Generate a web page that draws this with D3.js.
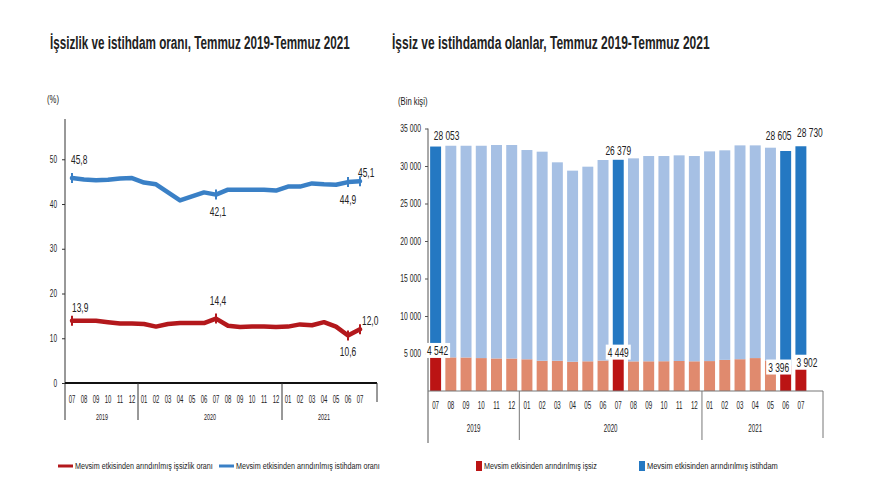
<!DOCTYPE html>
<html><head><meta charset="utf-8">
<script src="https://cdn.jsdelivr.net/npm/d3@7"></script>
<style>
html,body{margin:0;padding:0;background:#fff;}
svg text{font-family:"Liberation Sans",Arial,sans-serif;fill:#222;}
</style></head>
<body>
<svg id="c" width="880" height="495"></svg>
<script>
// ---- data ----
const months = ["07","08","09","10","11","12","01","02","03","04","05","06","07","08","09","10","11","12","01","02","03","04","05","06","07"];
const yearLabels = ["2019","2020","2021"];
const yearStart = [0,6,18];
const yearEnd = [5,17,24];
const employmentRate = [45.8,45.5,45.3,45.4,45.7,45.8,44.8,44.4,42.6,40.8,41.7,42.6,42.1,43.2,43.2,43.2,43.2,43.0,43.9,43.9,44.6,44.4,44.3,44.9,45.1];
const unemploymentRate = [13.9,13.9,13.9,13.6,13.3,13.3,13.2,12.6,13.2,13.4,13.4,13.4,14.4,12.8,12.5,12.6,12.6,12.5,12.6,13.1,12.9,13.6,12.6,10.6,12.0];
const employed = [28053,28220,28230,28310,28460,28470,27900,27880,26460,25480,25950,26740,26379,27070,27370,27360,27420,27370,27960,27940,28510,28360,28380,28605,28730];
const unemployed = [4542,4480,4470,4390,4340,4330,4230,4030,4030,3900,3960,4060,4449,3950,3960,3970,4000,3960,3990,4150,4240,4390,4060,3396,3902];
const highlighted = [0,12,23,24];
const rateTicks = [0,10,20,30,40,50];
const countTicks = [5000,10000,15000,20000,25000,30000,35000];
const titleLeft = "İşsizlik ve istihdam oranı, Temmuz 2019-Temmuz 2021";
const titleRight = "İşsiz ve istihdamda olanlar, Temmuz 2019-Temmuz 2021";
const legendLeft = ["Mevsim etkisinden arındırılmış işsizlik oranı","Mevsim etkisinden arındırılmış istihdam oranı"];
const legendRight = ["Mevsim etkisinden arındırılmış işsiz","Mevsim etkisinden arındırılmış istihdam"];

const C = {lineRed:"#b3181c", lineBlue:"#3a80c6", darkBlue:"#2478c2", lightBlue:"#a6c0e4", darkRed:"#bb1414", salmon:"#e08a6e"};
const svg = d3.select("#c");
const fmtComma = d => d.toFixed(1).replace(".", ",");
const fmtSpace = d => d3.format(",")(d).replace(/,/g, " ");

// horizontal condensing via transform about the text anchor point
function condense(sel, f){
  sel.each(function(){
    const s = d3.select(this);
    const x = +s.attr("x") || 0;
    s.attr("transform", `translate(${x},0) scale(${f},1) translate(${-x},0)`);
  });
  return sel;
}
function fitText(sel, w){
  sel.each(function(){
    const n = this.getComputedTextLength();
    condense(d3.select(this), w/n);
  });
  return sel;
}

// ---- titles ----
fitText(svg.append("text").attr("x",50).attr("y",49).attr("font-size",19).attr("font-weight","bold").attr("fill","#111").text(titleLeft), 300);
fitText(svg.append("text").attr("x",392).attr("y",49).attr("font-size",19).attr("font-weight","bold").attr("fill","#111").text(titleRight), 318);

// ================= LEFT CHART =================
const L = svg.append("g");
const xL = d3.scalePoint().domain(d3.range(months.length)).range([72,360]);
const yL = d3.scaleLinear().domain([0,59]).range([383,119]);

condense(L.append("text").attr("x",47).attr("y",103).attr("font-size",11).text("(%)"), 0.7);

// y axis
const yAxL = d3.axisLeft(yL).tickValues(rateTicks).tickSize(3).tickPadding(5).tickFormat(d=>d);
const gyL = L.append("g").attr("transform","translate(65,0)").call(yAxL);
gyL.select(".domain").attr("stroke","#333").attr("d","M0,119V420");
gyL.selectAll(".tick line").attr("stroke","#333");
gyL.selectAll(".tick text").attr("font-size",10).attr("fill","#333");
condense(gyL.selectAll(".tick text"), 0.65);

// x axis line
L.append("line").attr("x1",65).attr("x2",377).attr("y1",yL(0)).attr("y2",yL(0)).attr("stroke","#111").attr("stroke-width",2);
L.append("line").attr("x1",377).attr("x2",377).attr("y1",yL(0)).attr("y2",402).attr("stroke","#333");
// separators
yearStart.slice(1).forEach(s=>{
  const xs = (xL(s-1)+xL(s))/2;
  L.append("line").attr("x1",xs).attr("x2",xs).attr("y1",yL(0)).attr("y2",420).attr("stroke","#333");
});
// month labels
condense(L.selectAll(".mL").data(months).enter().append("text")
  .attr("x",(d,i)=>xL(i)).attr("y",403).attr("text-anchor","middle").attr("font-size",10).attr("fill","#333").text(d=>d), 0.6);
condense(L.selectAll(".yL").data(yearLabels).enter().append("text")
  .attr("x",(d,i)=>(xL(yearStart[i])+xL(yearEnd[i]))/2).attr("y",420).attr("text-anchor","middle").attr("font-size",9).attr("fill","#333").text(d=>d), 0.6);

// lines
const lineGen = d3.line().x((d,i)=>xL(i)).y(d=>yL(d)).curve(d3.curveLinear);
L.append("path").datum(employmentRate).attr("d",lineGen).attr("fill","none").attr("stroke",C.lineBlue).attr("stroke-width",4.5).attr("stroke-linejoin","round").attr("stroke-linecap","round");
L.append("path").datum(unemploymentRate).attr("d",lineGen).attr("fill","none").attr("stroke",C.lineRed).attr("stroke-width",4.5).attr("stroke-linejoin","round").attr("stroke-linecap","round");
// markers at labelled points
const markIdx = [0,12,23,24];
markIdx.forEach(i=>{
  [[employmentRate,C.lineBlue],[unemploymentRate,C.lineRed]].forEach(([arr,col])=>{
    L.append("line").attr("x1",xL(i)).attr("x2",xL(i)).attr("y1",yL(arr[i])-5).attr("y2",yL(arr[i])+5).attr("stroke",col).attr("stroke-width",2);
  });
});
// data labels
const lblL = [
  {arr:employmentRate,i:0,dx:-1,dy:-14,a:"start"},
  {arr:employmentRate,i:12,dx:2,dy:21,a:"middle"},
  {arr:employmentRate,i:23,dx:0,dy:22,a:"middle"},
  {arr:employmentRate,i:24,dx:-2,dy:-4,a:"start"},
  {arr:unemploymentRate,i:0,dx:0,dy:-9,a:"start"},
  {arr:unemploymentRate,i:12,dx:2,dy:-14,a:"middle"},
  {arr:unemploymentRate,i:23,dx:0,dy:20,a:"middle"},
  {arr:unemploymentRate,i:24,dx:2,dy:-4,a:"start"}
];
lblL.forEach(o=>{
  condense(L.append("text").attr("x",xL(o.i)+o.dx).attr("y",yL(o.arr[o.i])+o.dy).attr("text-anchor",o.a).attr("font-size",12).attr("fill","#333").text(fmtComma(o.arr[o.i])), 0.7);
});

// legend left
L.append("line").attr("x1",58).attr("x2",73).attr("y1",466).attr("y2",466).attr("stroke",C.lineRed).attr("stroke-width",3);
fitText(L.append("text").attr("x",75).attr("y",469).attr("font-size",9).attr("fill","#444").text(legendLeft[0]), 138);
L.append("line").attr("x1",219).attr("x2",234).attr("y1",466).attr("y2",466).attr("stroke",C.lineBlue).attr("stroke-width",3);
fitText(L.append("text").attr("x",236).attr("y",469).attr("font-size",9).attr("fill","#444").text(legendLeft[1]), 144);

// ================= RIGHT CHART =================
const R = svg.append("g");
const xR = d3.scaleBand().domain(d3.range(months.length)).range([428,808.5]).paddingInner(0.28).paddingOuter(0.14);
const yR = d3.scaleLinear().domain([0,35000]).range([391,128.5]);

condense(R.append("text").attr("x",398).attr("y",105).attr("font-size",11).text("(Bin kişi)"), 0.7);

const yAxR = d3.axisLeft(yR).tickValues(countTicks).tickSize(3).tickPadding(4).tickFormat(fmtSpace);
const gyR = R.append("g").attr("transform","translate(428,0)").call(yAxR);
gyR.select(".domain").attr("stroke","#555").attr("d","M0,128.5V443");
gyR.selectAll(".tick line").attr("stroke","#555");
gyR.selectAll(".tick text").attr("font-size",10).attr("fill","#333");
condense(gyR.selectAll(".tick text"), 0.68);

// bars
const hl = i => highlighted.includes(i);
R.selectAll(".bu").data(unemployed).enter().append("rect")
  .attr("x",(d,i)=>xR(i)).attr("width",xR.bandwidth())
  .attr("y",d=>yR(d)).attr("height",d=>yR(0)-yR(d))
  .attr("fill",(d,i)=>hl(i)?C.darkRed:C.salmon);
R.selectAll(".be").data(employed).enter().append("rect")
  .attr("x",(d,i)=>xR(i)).attr("width",xR.bandwidth())
  .attr("y",(d,i)=>yR(d+unemployed[i])).attr("height",d=>yR(0)-yR(d))
  .attr("fill",(d,i)=>hl(i)?C.darkBlue:C.lightBlue);

// x axis
R.append("line").attr("x1",428).attr("x2",823).attr("y1",yR(0)).attr("y2",yR(0)).attr("stroke","#777");
R.append("line").attr("x1",823).attr("x2",823).attr("y1",yR(0)).attr("y2",438).attr("stroke","#777");
yearStart.slice(1).forEach(s=>{
  const xs = (xR(s-1)+xR(s)+xR.bandwidth())/2;
  R.append("line").attr("x1",xs).attr("x2",xs).attr("y1",yR(0)).attr("y2",440).attr("stroke","#777");
});
condense(R.selectAll(".mR").data(months).enter().append("text")
  .attr("x",(d,i)=>xR(i)+xR.bandwidth()/2).attr("y",409).attr("text-anchor","middle").attr("font-size",10).attr("fill","#333").text(d=>d), 0.62);
condense(R.selectAll(".yR").data(yearLabels).enter().append("text")
  .attr("x",(d,i)=>(xR(yearStart[i])+xR(yearEnd[i])+xR.bandwidth())/2).attr("y",432).attr("text-anchor","middle").attr("font-size",10).attr("fill","#333").text(d=>d), 0.62);

// labels employed
const lblE = [{i:0,dx:11,dy:-7},{i:12,dx:0,dy:-5},{i:23,dx:-7,dy:-11},{i:24,dx:9,dy:-9}];
lblE.forEach(o=>{
  const t = employed[o.i]+unemployed[o.i];
  condense(R.append("text").attr("x",xR(o.i)+xR.bandwidth()/2+o.dx).attr("y",yR(t)+o.dy).attr("text-anchor","middle").attr("font-size",12).attr("fill","#333").text(fmtSpace(employed[o.i])), 0.7);
});
// labels unemployed with white boxes
const lblU = [{i:0,dx:2,dy:-2},{i:12,dx:0,dy:-1},{i:23,dx:-7,dy:6},{i:24,dx:6,dy:5}];
lblU.forEach(o=>{
  const cx = xR(o.i)+xR.bandwidth()/2+o.dx;
  const by = yR(unemployed[o.i])+o.dy;
  R.append("rect").attr("x",cx-12.5).attr("y",by-12).attr("width",25).attr("height",15).attr("fill","#fff");
  condense(R.append("text").attr("x",cx).attr("y",by).attr("text-anchor","middle").attr("font-size",12).attr("fill","#333").text(fmtSpace(unemployed[o.i])), 0.7);
});

// legend right
R.append("rect").attr("x",476).attr("y",461).attr("width",6).attr("height",10).attr("fill",C.darkRed);
fitText(R.append("text").attr("x",484).attr("y",469).attr("font-size",9).attr("fill","#444").text(legendRight[0]), 113);
R.append("rect").attr("x",639).attr("y",461).attr("width",6).attr("height",10).attr("fill",C.darkBlue);
fitText(R.append("text").attr("x",647).attr("y",469).attr("font-size",9).attr("fill","#444").text(legendRight[1]), 131);
</script>
</body></html>
